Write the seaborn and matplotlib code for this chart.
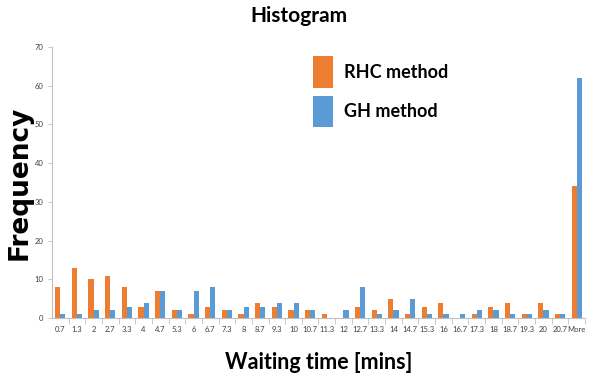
import matplotlib
matplotlib.use("Agg")
import matplotlib.pyplot as plt
import seaborn as sns
import pandas as pd
import numpy as np

categories = ["0.7", "1.3", "2", "2.7", "3.3", "4", "4.7", "5.3", "6", "6.7", "7.3", "8",
              "8.7", "9.3", "10", "10.7", "11.3", "12", "12.7", "13.3", "14", "14.7", "15.3",
              "16", "16.7", "17.3", "18", "18.7", "19.3", "20", "20.7", "More"]
rhc = [8, 13, 10, 11, 8, 3, 7, 2, 1, 3, 2, 1, 4, 3, 2, 2, 1, 0, 3, 2, 5, 1, 3, 4, 0, 1, 3, 4, 1, 4, 1, 34]
gh = [1, 1, 2, 2, 3, 4, 7, 2, 7, 8, 2, 3, 3, 4, 4, 2, 0, 2, 8, 1, 2, 5, 1, 1, 1, 2, 2, 1, 1, 2, 1, 62]
series_names = ["RHC method", "GH method"]
colors = ["#ED7D31", "#5B9BD5"]

df = pd.DataFrame({
    "bin": categories * 2,
    "freq": rhc + gh,
    "method": [series_names[0]] * len(categories) + [series_names[1]] * len(categories),
})

sns.set_theme(style="white")
plt.rcParams["font.family"] = ["Lato", "DejaVu Sans"]

fig = plt.figure(figsize=(5.97, 3.88), dpi=100)
ax = fig.add_axes([0.087, 0.180, 0.893, 0.699])

sns.barplot(data=df, x="bin", y="freq", hue="method", order=categories,
            hue_order=series_names, palette=colors, width=0.62, ax=ax,
            saturation=1, legend=True, linewidth=0)

ax.set_ylim(0, 70)
ax.set_yticks(range(0, 71, 10))
ax.set_xlim(-0.5, len(categories) - 0.5)
ax.tick_params(axis="x", labelsize=5.5, length=0, pad=6, colors="#404040")
ax.tick_params(axis="y", labelsize=5.5, length=3, width=0.6, direction="out",
               left=True, colors="#404040", pad=3)
ax.set_xticks(np.arange(len(categories)) + 0.5, minor=True)
ax.tick_params(axis="x", which="minor", length=4, width=0.6, bottom=True, color="#BFBFBF")
ax.tick_params(axis="y", color="#BFBFBF")

for s in ["top", "right"]:
    ax.spines[s].set_visible(False)
for s in ["left", "bottom"]:
    ax.spines[s].set_color("#BFBFBF")
    ax.spines[s].set_linewidth(0.8)

ax.set_xlabel("Waiting time [mins]", fontsize=15.5, fontweight="bold", labelpad=13, color="black")
ax.set_ylabel("Frequency", fontsize=19, fontweight="bold", family=["DejaVu Sans"],
              color="black")
ax.yaxis.set_label_coords(-0.036, 0.5)
fig.suptitle("Histogram", fontsize=15, fontweight="bold", y=0.985, color="black")

leg = ax.legend(loc="upper left", bbox_to_anchor=(0.46, 1.025), frameon=False,
                fontsize=13, handlelength=1.1, handleheight=2.3, labelspacing=0.45,
                handletextpad=0.6)
for t in leg.get_texts():
    t.set_fontweight("bold")
    t.set_color("black")

fig.savefig("out.png", dpi=100)
